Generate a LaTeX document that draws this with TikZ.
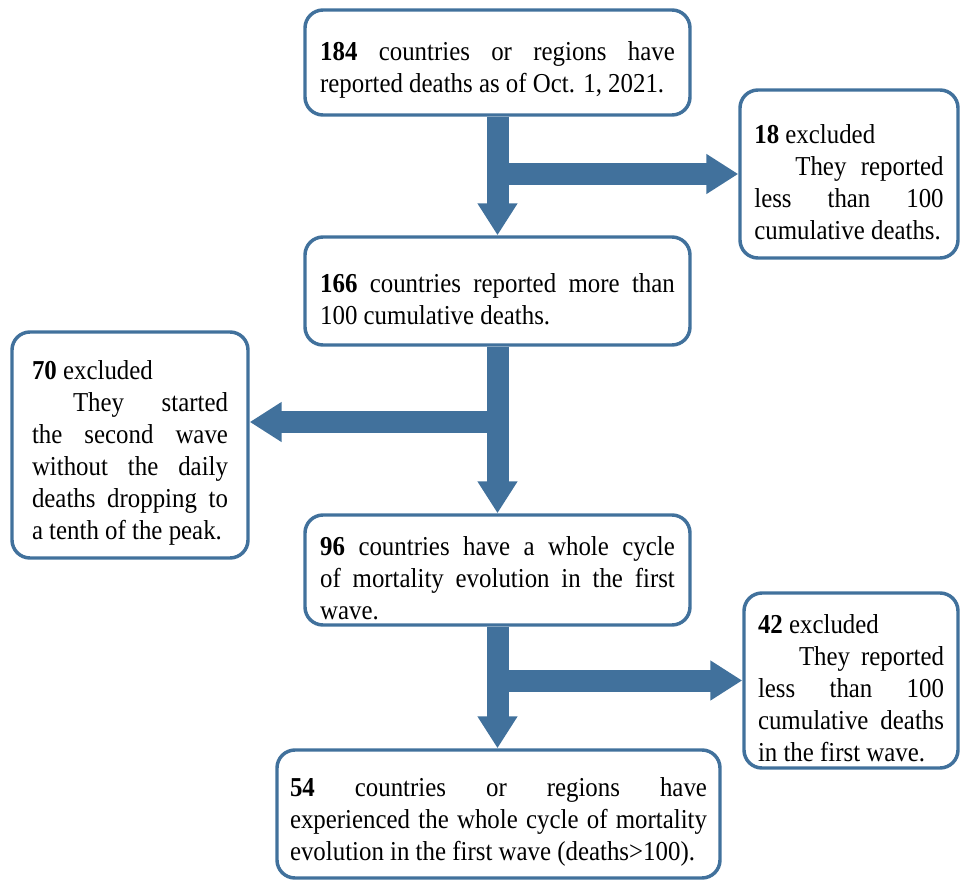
\documentclass[tikz,border=0pt]{standalone}
\usepackage{fontspec}
\setmainfont{Liberation Serif}[FakeStretch=0.91]
\usepackage{tikz}
\usetikzlibrary{arrows.meta,calc}
\definecolor{boxblue}{HTML}{41719C}
\tikzset{
  box/.style={
    draw=boxblue,
    fill=white,
    line width=2.6pt,
    rounded corners=13.5pt,
    align=justify,
    inner sep=0pt,
    font=\fontsize{20.5pt}{24pt}\selectfont,
    execute at begin node={\rule{0pt}{26pt}}
  },
  flow/.style={draw=boxblue, line width=16.5pt, -{Triangle[length=24pt,width=28.5pt]}}
}
\begin{document}
\begin{tikzpicture}[x=0.75pt,y=-0.75pt]
  \useasboundingbox (0,0) rectangle (961,881);

  \node[box, minimum width=288.75pt, minimum height=78.75pt, text width=266pt] (b184) at (497.5,62.5)
    {\textbf{184} countries or regions have\linebreak reported deaths as of Oct. 1, 2021.};
  \node[box, minimum width=163.5pt, minimum height=126pt, text width=142pt] (x18) at (849,174)
    {\textbf{18} excluded\par\hspace*{1.5em}They reported\linebreak less than 100\linebreak cumulative deaths.};
  \node[box, minimum width=288.75pt, minimum height=81pt, text width=266pt] (b166) at (497.5,291)
    {\textbf{166} countries reported more than\linebreak 100 cumulative deaths.};
  \node[box, minimum width=177pt, minimum height=169.5pt, text width=147pt] (x70) at (130,445)
    {\textbf{70} excluded\par\hspace*{1.5em}They started\linebreak the second wave\linebreak without the daily\linebreak deaths dropping to\linebreak a tenth of the peak.};
  \node[box, minimum width=288.75pt, minimum height=82.5pt, text width=266pt] (b96) at (497.5,570)
    {\textbf{96} countries have a whole cycle\linebreak of mortality evolution in the first\linebreak wave.};
  \node[box, minimum width=160.5pt, minimum height=131.25pt, text width=139.5pt] (x42) at (851,680.5)
    {\textbf{42} excluded\par\hspace*{1.5em}They reported\linebreak less than 100\linebreak cumulative deaths\linebreak in the first wave.};
  \node[box, minimum width=332.25pt, minimum height=96pt, text width=312.75pt] (b54) at (498.5,814)
    {\textbf{54} countries or regions have\linebreak experienced the whole cycle of mortality\linebreak evolution in the first wave (deaths>100).};

  \coordinate (split2) at (496,422);

  \draw[flow] (b184) -- (b166);
  \draw[flow] (b184.south |- x18.west) -- (x18.west);
  \draw[flow] (b166) -- (b96);
  \draw[flow] (split2) -- (x70.east |- split2);
  \draw[flow] (b96.south) -- (b96.south |- b54.north);
  \draw[flow] (b96.south |- x42.west) -- (x42.west);
\end{tikzpicture}
\end{document}
